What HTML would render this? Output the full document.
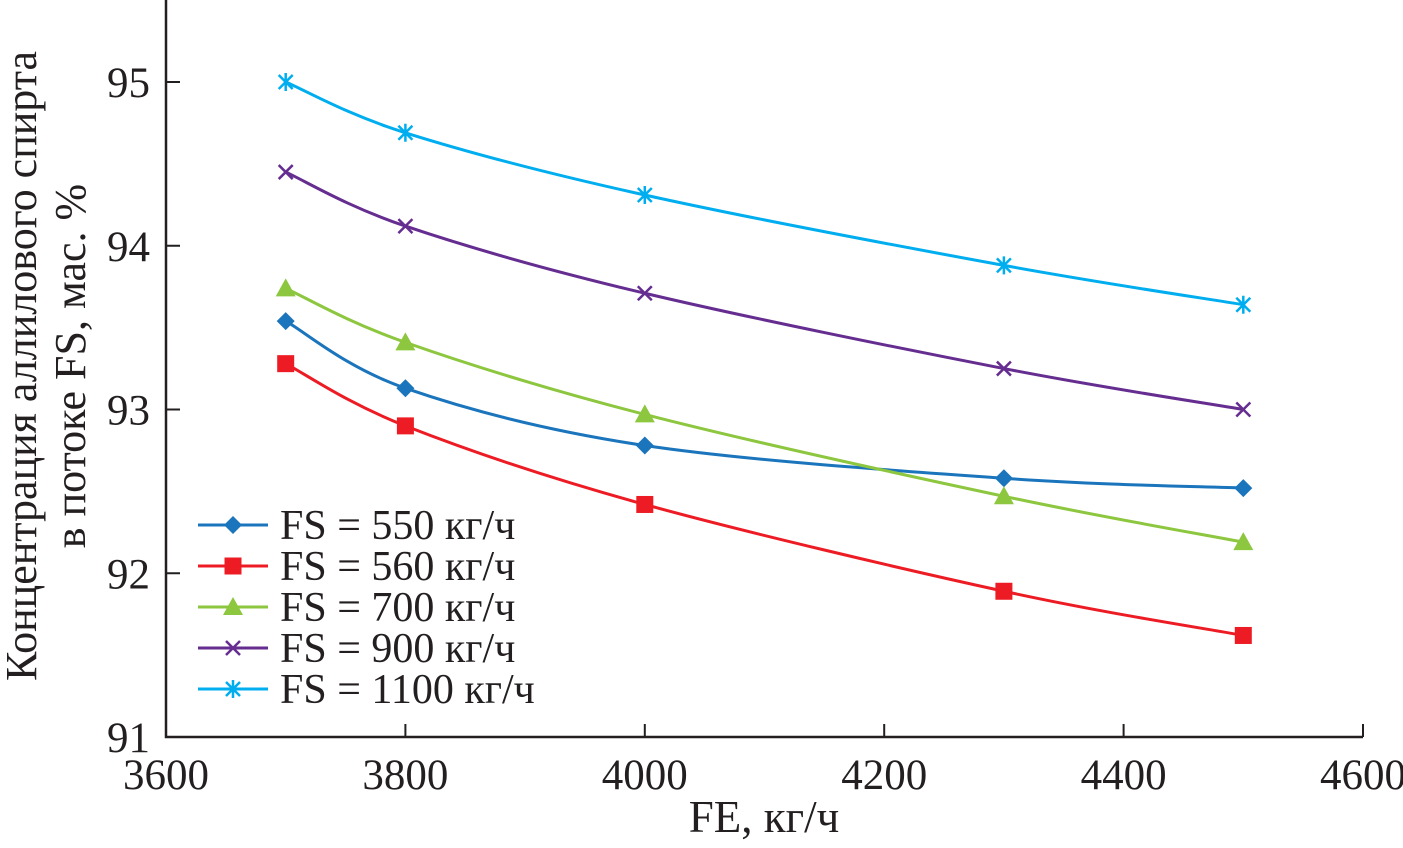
<!DOCTYPE html>
<html><head><meta charset="utf-8"><style>
body{margin:0;background:#fff}
svg text{font-family:"Liberation Serif",serif;fill:#231f20}
</style></head><body>
<svg width="1403" height="843" viewBox="0 0 1403 843">
<g id="axes"></g>
<g id="series"></g>
<g id="legend"></g>
<text x="764" y="832" font-size="45" text-anchor="middle">FE, кг/ч</text>
<text transform="translate(36,366) rotate(-90)" font-size="44" text-anchor="middle">Концентрация аллилового спирта</text>
<text transform="translate(85,366) rotate(-90)" font-size="44" text-anchor="middle">в потоке FS, мас. %</text>
</svg>
<script>
const xCats=[3700,3800,4000,4300,4500];
const xTicks=[3600,3800,4000,4200,4400,4600];
const yTicks=[91,92,93,94,95];
const seriesNames=["FS = 550 кг/ч","FS = 560 кг/ч","FS = 700 кг/ч","FS = 900 кг/ч","FS = 1100 кг/ч"];
const s550=[93.54,93.13,92.78,92.58,92.52];
const s560=[93.28,92.90,92.42,91.89,91.62];
const s700=[93.74,93.41,92.97,92.47,92.19];
const s900=[94.45,94.12,93.71,93.25,93.00];
const s1100=[95.00,94.69,94.31,93.88,93.64];
const allSeries=[s550,s560,s700,s900,s1100];
const colors=["#1b75bc","#ed1c24","#8dc63f","#662d91","#00aeef"];
const markers=["diamond","square","triangle","x","star"];
const NS="http://www.w3.org/2000/svg";
const X=v=>166+(v-3600)*1.197;
const Y=v=>737-(v-91)*163.75;
function mk(tag,attrs,parent){const e=document.createElementNS(NS,tag);for(const k in attrs)e.setAttribute(k,attrs[k]);parent.appendChild(e);return e;}
const ax=document.getElementById('axes');
let p=mk('path',{d:`M166 0 V737 H1363`,fill:'none',stroke:'#231f20','stroke-width':2.5},ax);


xTicks.forEach(t=>{
 const l=mk('line',{x1:X(t),x2:X(t),y1:737,y2:724,stroke:'#231f20','stroke-width':2},ax);
 
 
 const tx=mk('text',{x:X(t),y:789,'font-size':43,'text-anchor':'middle'},ax);tx.textContent=t;
 
 
});
yTicks.forEach(t=>{
 const l=mk('line',{x1:166,x2:180,y1:Y(t),y2:Y(t),stroke:'#231f20','stroke-width':2},ax);
 
 
 const tx=mk('text',{x:150,y:Y(t)+15,'font-size':43,'text-anchor':'end'},ax);tx.textContent=t;
 
 
});
function marker(type,x,y,c,parent){
 let e;
 if(type=="diamond")e=mk('path',{d:`M${x} ${y-9}L${x+9} ${y}L${x} ${y+9}L${x-9} ${y}Z`,fill:c},parent);
 else if(type=="square")e=mk('rect',{x:x-8.5,y:y-8.5,width:17,height:17,fill:c},parent);
 else if(type=="triangle")e=mk('path',{d:`M${x} ${y-10}L${x+10} ${y+8}L${x-10} ${y+8}Z`,fill:c},parent);
 else if(type=="x")e=mk('path',{d:`M${x-7} ${y-7}L${x+7} ${y+7}M${x+7} ${y-7}L${x-7} ${y+7}`,stroke:c,'stroke-width':2.5},parent);
 else e=mk('path',{d:`M${x-7} ${y-7}L${x+7} ${y+7}M${x+7} ${y-7}L${x-7} ${y+7}M${x} ${y-9}V${y+9}`,stroke:c,'stroke-width':2.5},parent);
 
 
}
const sg=document.getElementById('series');
allSeries.forEach((vals,i)=>{
 const pts=vals.map((v,j)=>[X(xCats[j]),Y(v)]);
 let d=`M${pts[0][0]} ${pts[0][1]}`;
 for(let k=0;k<pts.length-1;k++){
  const p0=pts[Math.max(k-1,0)],p1=pts[k],p2=pts[k+1],p3=pts[Math.min(k+2,pts.length-1)];
  const t=0.5/3;
  d+=`C${p1[0]+(p2[0]-p0[0])*t} ${p1[1]+(p2[1]-p0[1])*t} ${p2[0]-(p3[0]-p1[0])*t} ${p2[1]-(p3[1]-p1[1])*t} ${p2[0]} ${p2[1]}`;
 }
 const g=mk('g',{},sg);
 
 
 const path=mk('path',{d,fill:'none',stroke:colors[i],'stroke-width':3},g);
 
 
 pts.forEach(q=>marker(markers[i],q[0],q[1],colors[i],g));
});
const lg=document.getElementById('legend');
seriesNames.forEach((n,i)=>{
 const y=525+i*41;
 const g=mk('g',{},lg);
 
 
 mk('line',{x1:198,x2:268,y1:y,y2:y,stroke:colors[i],'stroke-width':3},g);
 marker(markers[i],233,y,colors[i],g);
 const t=mk('text',{x:280,y:y+14,'font-size':42},g);t.textContent=n;
});
</script>
</body></html>
